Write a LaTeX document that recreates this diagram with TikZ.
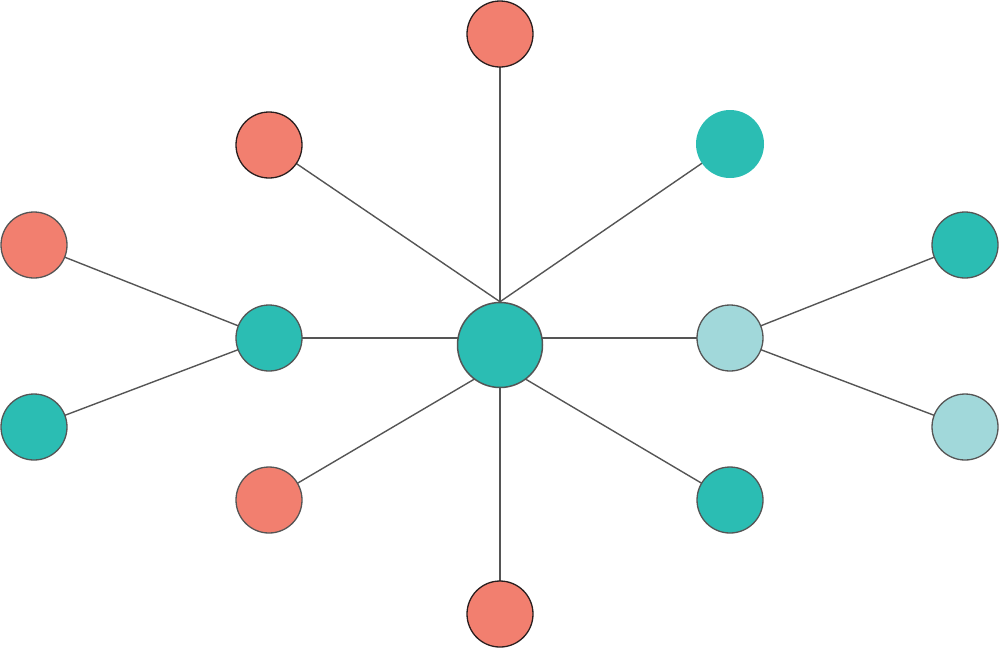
\documentclass[tikz,border=0pt]{standalone}
\usetikzlibrary{backgrounds,calc}
\begin{document}
\begin{tikzpicture}[x=1pt,y=-1pt,
  salmon/.style={circle,inner sep=0pt,minimum size=66pt,fill=salmonc,draw=outl,line width=1.3pt},
  salmondk/.style={salmon,draw=darkoutl},
  tealn/.style={circle,inner sep=0pt,minimum size=66pt,fill=tealc,draw=outl,line width=1.3pt},
  tealplain/.style={circle,inner sep=0pt,minimum size=68pt,fill=tealc},
  lteal/.style={circle,inner sep=0pt,minimum size=66pt,fill=ltealc,draw=outl,line width=1.3pt},
  hub/.style={circle,inner sep=0pt,minimum size=85pt,fill=tealc,draw=outl,line width=1.5pt},
  edge/.style={draw=linec,line width=1.4pt},
  thickedge/.style={draw=linec,line width=2.4pt}]
\definecolor{salmonc}{RGB}{242,127,111}
\definecolor{tealc}{RGB}{43,189,179}
\definecolor{ltealc}{RGB}{161,216,218}
\definecolor{outl}{RGB}{85,85,85}
\definecolor{darkoutl}{RGB}{40,30,30}
\definecolor{linec}{RGB}{85,85,85}
\useasboundingbox (0,0) rectangle (1000,649);
% nodes
\node[hub] (c) at (500,345) {};
\node[salmondk] (top) at (500,34) {};
\node[salmondk] (ul) at (269,145) {};
\node[tealplain] (ur) at (730,144) {};
\node[salmon] (flt) at (34,245) {};
\node[tealn] (lm) at (269,338) {};
\node[tealn] (flb) at (34,427) {};
\node[salmon] (ll) at (269,500) {};
\node[salmondk] (bot) at (500,614) {};
\node[tealn] (lr) at (730,500) {};
\node[lteal] (rm) at (730,338) {};
\node[tealn] (frt) at (965,245) {};
\node[lteal] (frb) at (965,427) {};
% edges (behind the circles)
\begin{scope}[on background layer]
\draw[thickedge] (top.center) -- (c.north);
\draw[edge] (ul.center) -- (c.north);
\draw[edge] (ur.center) -- (c.north);
\draw[edge] (lm.center) -- (rm.center);
\draw[edge] (ll.center) -- ($(c.center)+(0,19)$);
\draw[edge] (lr.center) -- ($(c.center)+(0,19)$);
\draw[edge] (bot.center) -- (c.center);
\draw[edge] (flt.center) -- (lm.center);
\draw[edge] (flb.center) -- (lm.center);
\draw[edge] (frt.center) -- (rm.center);
\draw[edge] (frb.center) -- (rm.center);
\end{scope}
\end{tikzpicture}
\end{document}
